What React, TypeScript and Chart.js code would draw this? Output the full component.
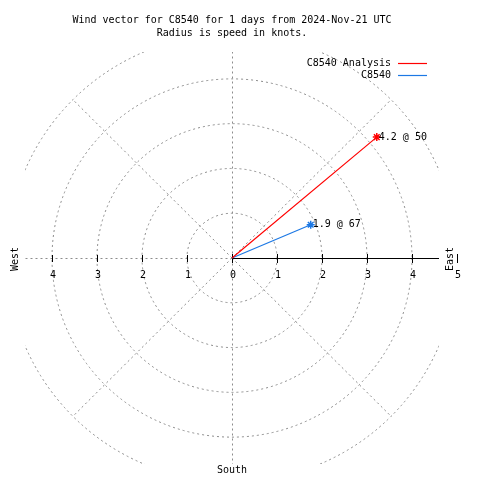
import React, { useEffect, useRef } from "react";
import { Chart, registerables } from "chart.js";

Chart.register(...registerables);

const titleLines = [
  "Wind vector for C8540 for 1 days from 2024-Nov-21 UTC",
  "Radius is speed in knots.",
];
const seriesNames = ["C8540 Analysis", "C8540"];
const speeds = [4.2, 1.9];
const directions = [50, 67];
const seriesColors = ["#ff0000", "#1c78e4"];
const ringRadii = [1, 2, 3, 4, 5];
const leftTickLabels = ["4", "3", "2", "1"];
const rightTickLabels = ["0", "1", "2", "3", "4", "5"];
const axisRange = 4.6;
const FONT = "10px 'DejaVu Sans Mono', monospace";

const polarPlugin = {
  id: "polarDecor",
  beforeDatasetsDraw(chart: any) {
    const { ctx, chartArea, scales } = chart;
    const xs = scales.x;
    const ys = scales.y;
    const x0 = xs.getPixelForValue(0);
    const y0 = ys.getPixelForValue(0);
    const ppu = xs.getPixelForValue(1) - x0;
    const ppuY = y0 - ys.getPixelForValue(1);
    ctx.save();
    ctx.beginPath();
    ctx.rect(chartArea.left, chartArea.top, chartArea.right - chartArea.left, chartArea.bottom - chartArea.top);
    ctx.clip();
    ctx.strokeStyle = "#8c8c8c";
    ctx.lineWidth = 1;
    ctx.setLineDash([2, 3]);
    ringRadii.forEach((r) => {
      ctx.beginPath();
      ctx.ellipse(x0, y0, r * ppu, r * ppuY, 0, 0, Math.PI * 2);
      ctx.stroke();
    });
    const rmax = ringRadii[ringRadii.length - 1];
    for (let a = 0; a < 360; a += 45) {
      const rad = (a * Math.PI) / 180;
      const len = a % 90 === 0 ? rmax * 2 : rmax;
      const sx = a % 90 === 0 ? Math.round(x0) + 0.5 : x0;
      const sy = a % 90 === 0 ? Math.round(y0) + 0.5 : y0;
      ctx.beginPath();
      ctx.moveTo(sx, sy);
      ctx.lineTo(sx + Math.cos(rad) * len * ppu, sy - Math.sin(rad) * len * ppuY);
      ctx.stroke();
    }
    ctx.restore();

    ctx.save();
    ctx.strokeStyle = "#000";
    ctx.lineWidth = 1;
    ctx.setLineDash([]);
    ctx.beginPath();
    ctx.moveTo(x0, Math.round(y0) + 0.5);
    ctx.lineTo(chartArea.right, Math.round(y0) + 0.5);
    ctx.stroke();
    // ticks
    for (let r = 0; r <= 5; r++) {
      const px = Math.round(x0 + r * ppu) + 0.5;
      ctx.beginPath();
      ctx.moveTo(px, y0 - 4);
      ctx.lineTo(px, y0 + 5);
      ctx.stroke();
    }
    for (let r = 1; r <= 4; r++) {
      const px = Math.round(x0 - r * ppu) + 0.5;
      ctx.beginPath();
      ctx.moveTo(px, y0 - 3);
      ctx.lineTo(px, y0 + 4);
      ctx.stroke();
    }
    ctx.fillStyle = "#000";
    ctx.font = FONT;
    ctx.textAlign = "center";
    ctx.textBaseline = "middle";
    leftTickLabels.forEach((t, i) => {
      ctx.fillText(t, x0 - (leftTickLabels.length - i) * ppu + 1, y0 + 17);
    });
    rightTickLabels.forEach((t, i) => {
      ctx.fillText(t, x0 + i * ppu + 1, y0 + 17);
    });
    // compass labels
    ctx.fillText("South", x0, 470);
    ctx.save();
    ctx.translate(15, y0 + 1);
    ctx.rotate(-Math.PI / 2);
    ctx.fillText("West", 0, 0);
    ctx.restore();
    ctx.save();
    ctx.translate(450, y0 + 1);
    ctx.rotate(-Math.PI / 2);
    ctx.fillText("East", 0, 0);
    ctx.restore();
    // title
    ctx.fillText(titleLines[0], 232, 20);
    ctx.fillText(titleLines[1], 232, 33);
    // legend
    ctx.textAlign = "right";
    seriesNames.forEach((n, i) => {
      const y = 63 + i * 12;
      ctx.fillStyle = "#000";
      ctx.fillText(n, 391, y);
      ctx.strokeStyle = seriesColors[i];
      ctx.lineWidth = 1.2;
      ctx.beginPath();
      ctx.moveTo(398, y + 0.5);
      ctx.lineTo(427, y + 0.5);
      ctx.stroke();
    });
    ctx.restore();
  },
  afterDatasetsDraw(chart: any) {
    const { ctx } = chart;
    ctx.save();
    ctx.font = FONT;
    ctx.fillStyle = "#000";
    ctx.textAlign = "left";
    ctx.textBaseline = "middle";
    chart.data.datasets.forEach((ds: any, i: number) => {
      const meta = chart.getDatasetMeta(i);
      const pt = meta.data[1];
      ctx.fillText(`${speeds[i]} @ ${directions[i]}`, pt.x + 2, pt.y);
    });
    ctx.restore();
  },
};

export default function App() {
  const ref = useRef<HTMLCanvasElement>(null);
  useEffect(() => {
    if (!ref.current) return;
    const datasets = seriesNames.map((name, i) => {
      const rad = (directions[i] * Math.PI) / 180;
      return {
        label: name,
        data: [
          { x: 0, y: 0 },
          { x: speeds[i] * Math.sin(rad), y: speeds[i] * Math.cos(rad) },
        ],
        showLine: true,
        borderColor: seriesColors[i],
        backgroundColor: seriesColors[i],
        borderWidth: 1.2,
        pointStyle: "star",
        pointRadius: [0, 4],
        pointBorderWidth: 1.5,
        pointBorderColor: seriesColors[i],
        tension: 0,
      };
    });
    const chart = new Chart(ref.current, {
      type: "scatter",
      data: { datasets: datasets as any },
      options: {
        animation: false,
        responsive: false,
        layout: { padding: { left: 25, right: 41, top: 52, bottom: 16 } },
        scales: {
          x: { type: "linear", min: -axisRange, max: axisRange, display: false },
          y: { type: "linear", min: -axisRange, max: axisRange, display: false },
        },
        plugins: { legend: { display: false }, tooltip: { enabled: false }, title: { display: false } },
      },
      plugins: [polarPlugin],
    });
    return () => chart.destroy();
  }, []);
  return (
    <div style={{ position: "absolute", left: 0, top: 0, width: 480, height: 480, background: "#fff" }}>
      <canvas ref={ref} width={480} height={480} />
    </div>
  );
}
